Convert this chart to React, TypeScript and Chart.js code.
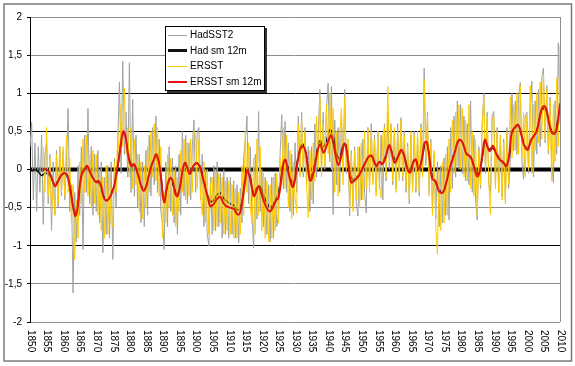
import { useEffect, useRef } from 'react';
import { Chart, registerables } from 'chart.js';

Chart.register(...registerables);

// ---- axis labels ----
const xTickYears = [1850, 1855, 1860, 1865, 1870, 1875, 1880, 1885, 1890, 1895, 1900, 1905, 1910, 1915, 1920, 1925, 1930, 1935, 1940, 1945, 1950, 1955, 1960, 1965, 1970, 1975, 1980, 1985, 1990, 1995, 2000, 2005, 2010];
const yMin = -2;
const yMax = 2;
const yStep = 0.5;

// ---- series names ----
const seriesNames = ['HadSST2', 'Had sm 12m', 'ERSST', 'ERSST sm 12m'];

// ---- HadSST2 (grey), half-year samples starting 1850.0 ----
const hadStartYear = 1850;
const hadStep = 0.5;
const hadSST2 = [
  0.3, 0.62, -0.4, 0.35, -0.55, 0.3, -0.3, 0.45, -0.72, 0.2,
  0.35, -0.45, 0.2, -0.8, 0.1, -0.6, 0.25, -0.5, 0.3, -0.35,
  0.25, -0.4, 0.1, 0.8, -0.55, -0.2, -1.62, -0.3, -0.95, 0.05,
  -0.6, 0.3, -1.05, 0.45, -0.3, 0.8, -0.45, 0.3, -0.6, 0.2,
  -0.55, 0.25, -0.7, 0.1, -1.09, -0.1, -0.85, 0.05, -0.9, 0.1,
  -1.18, 0.15, -0.5, 0.4, 1.15, -0.05, 1.42, 0.2, 0.75, -0.1,
  1.4, -0.3, 0.92, -0.35, 0.45, -0.5, 0.2, -0.7, 0.1, -0.75,
  0.25, -0.6, 0.45, -0.35, 0.55, -0.2, 0.7, -0.3, 0.4, -0.55,
  -0.7, -1.05, 0.1, -0.75, 0.3, -0.55, 0.15, -0.7, 0.05, -0.85,
  0.2, -0.6, 0.5, -0.35, 0.45, -0.45, 0.35, -0.4, 0.3, 0.65,
  -0.3, 0.5, 0.55, -0.4, 0.2, -0.75, 0.0, -0.85, -1.0, -0.1,
  -0.85, 0.05, -0.8, 0.1, -0.75, -0.05, -0.9, 0.0, -0.85, -0.1,
  -0.9, -0.1, -0.85, -0.15, -0.9, -0.2, -0.96, -0.25, -0.7, 0.15,
  0.4, 0.7, -0.45, 0.3, -0.6, -1.03, 0.2, -0.65, 0.76, -0.55,
  0.0, -0.75, -0.1, -0.85, -0.2, -0.95, -0.1, -0.9, -0.05, -0.75,
  -0.6, 0.2, 0.72, -0.25, 0.63, -0.3, 0.35, -0.55, 0.2, -0.6,
  0.35, -0.3, 0.7, -0.05, 0.75, -0.1, 0.55, -0.2, 0.3, -0.55,
  0.3, -0.45, 0.6, -0.1, 0.45, 1.05, -0.05, 0.75, 0.0, 0.8,
  1.13, 0.1, 1.09, -0.59, 0.65, -0.2, 0.55, -0.3, 0.7, -0.05,
  1.05, -0.05, 0.3, -0.61, 0.25, -0.5, 0.3, -0.45, -0.61, 0.3,
  -0.4, 0.4, -0.3, -0.57, 0.55, -0.2, 0.6, -0.15, 0.45, -0.3,
  0.5, -0.25, 0.45, -0.4, 0.6, -0.15, 0.75, 0.0, 0.6, -0.2,
  0.5, -0.25, 0.6, -0.1, 0.68, -0.15, 0.5, -0.3, 0.35, -0.45,
  0.45, -0.25, 0.5, -0.3, 0.4, -0.35, 0.6, -0.1, 1.33, 0.05,
  0.75, -0.3, 0.4, -0.55, 0.2, -0.65, 0.1, -0.75, 0.05, -0.7,
  0.15, -0.6, 0.3, -0.66, 0.55, -0.25, 0.7, -0.1, 0.9, 0.0,
  0.85, -0.05, 0.7, -0.15, 0.6, -0.2, 0.9, -0.3, 0.45, -0.4,
  -0.66, 0.3, -0.25, 0.6, 1.0, -0.05, 0.75, -0.2, -0.3, 0.7,
  0.76, -0.2, 0.55, -0.3, 0.45, -0.35, 0.4, -0.4, 0.55, -0.25,
  0.1, 1.0, 0.25, 0.9, 0.2, 0.95, 1.14, 0.1, -0.13, 0.7,
  0.75, -0.05, 0.8, 1.16, -0.1, 0.9, 0.2, 1.05, 0.3, 1.2,
  1.33, 0.35, 1.1, 0.2, 0.95, 0.05, -0.17, 0.9, 0.2, 1.66,
  0.6,
];

// ---- Had sm 12m (black), yearly samples starting 1850.5 ----
const hadSmStartYear = 1850.5;
const hadSmStep = 1;
const hadSm12m = [
  -0.02, 0.0, -0.03, -0.08, -0.05, -0.06, -0.12, -0.2, -0.14, -0.08,
  -0.05, -0.12, -0.35, -0.58, -0.45, -0.1, 0.0, 0.02, -0.08, -0.14,
  -0.16, -0.24, -0.38, -0.4, -0.32, -0.2, 0.05, 0.36, 0.48, 0.24,
  0.08, 0.06, -0.05, -0.2, -0.26, -0.15, 0.03, 0.14, 0.16, -0.08,
  -0.4, -0.22, -0.12, -0.24, -0.32, -0.18, 0.06, 0.03, -0.03, 0.06,
  0.09, 0.02, -0.15, -0.32, -0.42, -0.4, -0.33, -0.31, -0.38, -0.42,
  -0.45, -0.47, -0.53, -0.5, -0.25, 0.02, -0.1, -0.3, -0.24, -0.22,
  -0.34, -0.43, -0.5, -0.45, -0.36, -0.2, 0.1, 0.08, -0.1, -0.18,
  0.05, 0.28, 0.33, 0.15, -0.1, -0.02, 0.22, 0.38, 0.3, 0.38,
  0.52, 0.45, 0.22, 0.14, 0.32, 0.32, -0.02, -0.14, -0.1, -0.06,
  0.03, 0.12, 0.18, 0.15, 0.06, 0.1, 0.08, 0.2, 0.3, 0.2,
  0.12, 0.2, 0.24, 0.1, -0.02, 0.08, 0.12, 0.03, 0.18, 0.36,
  0.2, -0.1, -0.18, -0.26, -0.3, -0.2, -0.02, 0.14, 0.27, 0.38,
  0.36, 0.24, 0.18, 0.12, 0.0, -0.06, 0.15, 0.38, 0.27, 0.28,
  0.24, 0.16, 0.1, 0.06, 0.14, 0.46, 0.55, 0.57, 0.44, 0.3,
  0.3, 0.4, 0.46, 0.6, 0.77, 0.8, 0.66, 0.5, 0.5, 0.7,
];

// ---- ERSST (yellow), half-year samples starting 1854.0 ----
const ersstStartYear = 1854;
const ersstStep = 0.5;
const ersst = [
  0.3, -0.3,
  0.55, -0.35, 0.15, -0.55, -0.2, -0.6, 0.2, -0.45, 0.3, -0.3,
  0.3, -0.35, 0.45, -0.3, 0.15, -0.7, -0.2, -1.18, -0.4, -0.9,
  0.1, -0.45, 0.4, -0.3, 0.45, -0.35, 0.2, -0.5, 0.25, -0.45,
  0.2, -0.6, 0.0, -0.8, -0.1, -0.9, 0.05, -0.85, -0.05, -0.7,
  -0.75, 0.1, -0.3, 0.5, 0.1, 0.85, 0.3, 1.07, 0.2, 0.55,
  -0.1, 0.55, -0.25, 0.4, -0.2, 0.2, -0.55, 0.1, -0.65, 0.05,
  -0.5, 0.3, -0.3, 0.5, -0.1, 0.6, -0.15, 0.55, -0.35, 0.3,
  -0.9, -0.3, -0.7, 0.2, -0.5, 0.15, -0.6, 0.0, -0.75, -0.1,
  -0.55, 0.25, -0.3, 0.4, -0.4, 0.35, -0.35, 0.4, -0.3, 0.5,
  0.45, -0.25, 0.4, -0.35, -0.6, 0.1, -0.7, 0.0, -0.85, -0.2,
  -0.1, -0.8, 0.0, -0.75, -0.05, -0.7, -0.1, -0.85, -0.15, -0.8,
  -0.15, -0.85, -0.2, -0.9, -0.25, -0.9, -0.3, -0.85, 0.05, -0.6,
  0.5, -0.3, 0.35, -0.5, -0.7, 0.15, -0.85, 0.4, -0.6, 0.3,
  -0.8, -0.05, -0.9, -0.15, -0.95, -0.2, -0.9, -0.1, -0.8, -0.05,
  -0.7, 0.15, -0.2, 0.55, -0.25, 0.45, -0.5, 0.25, -0.65, 0.1,
  -0.35, -0.57, 0.6, -0.1, 0.65, -0.05, 0.5, -0.2, -0.63, 0.25,
  -0.4, 0.35, -0.15, 0.7, 0.0, 0.95, -0.1, 0.6, 0.05, 0.85,
  0.2, 1.0, 0.0, 0.8, -0.3, 0.5, -0.35, 0.45, 0.8, -0.2,
  0.95, 0.0, 0.4, -0.5, 0.2, -0.55, 0.25, -0.4, 0.3, -0.5,
  0.35, -0.4, 0.5, -0.25, 0.55, -0.3, 0.5, -0.2, 0.4, -0.35,
  0.5, -0.2, -0.37, 0.45, 0.55, -0.1, 1.09, 0.1, 0.6, -0.15,
  0.55, -0.3, 0.5, -0.15, 0.65, -0.1, 0.45, -0.25, 0.3, -0.39,
  0.5, -0.3, 0.45, -0.25, 0.5, -0.3, 0.55, -0.1, 1.18, 0.15,
  0.7, -0.35, 0.35, -0.6, 0.25, -0.75, -1.11, 0.0, -0.8, 0.1,
  -0.7, 0.2, -0.6, 0.4, -0.3, 0.65, -0.05, 0.75, 0.05, 0.85,
  0.0, 0.8, -0.1, 0.65, -0.15, 0.85, -0.25, 0.5, -0.35, 0.4,
  -0.6, 0.25, -0.2, 0.55, 0.95, 0.0, 0.7, -0.15, -0.59, 0.65,
  0.7, -0.25, 0.5, -0.3, 0.45, -0.4, 0.35, -0.45, 0.5, -0.2,
  0.95, 0.15, 0.85, 0.25, 1.0, 0.2, 1.1, 0.15, 0.75, -0.1,
  0.7, 0.0, 1.1, -0.05, 0.85, 0.25, 1.0, 0.35, 1.15, 0.4,
  1.25, 0.4, 1.05, 0.25, 0.9, -0.15, 0.85, 0.1, 1.2, 0.3,
  1.63,
];

// ---- ERSST sm 12m (red) ----
const ersstSmYears = [
  1854.0, 1855.0, 1856.0, 1857.0, 1857.6, 1858.5, 1859.5, 1860.7, 1861.5, 1862.5,
  1863.3, 1863.7, 1864.3, 1865.0, 1865.7, 1866.5, 1867.2, 1868.0, 1869.0, 1870.0,
  1870.7, 1871.5, 1872.3, 1873.0, 1873.7, 1874.5, 1875.4, 1876.0, 1876.8, 1877.6,
  1878.2, 1878.8, 1879.4, 1880.1, 1880.8, 1881.4, 1882.1, 1882.9, 1883.6, 1884.3,
  1885.1, 1885.8, 1886.6, 1887.4, 1888.1, 1888.8, 1889.4, 1890.1, 1890.6, 1891.3,
  1892.3, 1893.1, 1893.8, 1894.5, 1895.3, 1896.1, 1896.8, 1897.5, 1898.3, 1899.1,
  1900.1, 1901.1, 1901.9, 1902.8, 1903.8, 1904.4, 1905.3, 1906.4, 1907.4, 1908.4,
  1909.2, 1910.4, 1911.6, 1912.6, 1913.4, 1914.2, 1914.9, 1915.5, 1916.2, 1916.9,
  1917.6, 1918.2, 1919.0, 1919.6, 1920.4, 1921.2, 1922.3, 1923.3, 1924.2, 1925.0,
  1925.8, 1926.5, 1927.1, 1927.8, 1928.6, 1929.4, 1930.2, 1931.0, 1932.0, 1933.0,
  1934.0, 1934.6, 1935.6, 1936.6, 1937.6, 1938.6, 1939.6, 1940.8, 1941.4, 1942.3,
  1943.1, 1944.1, 1944.9, 1945.6, 1946.3, 1947.0, 1948.0, 1949.0, 1950.0, 1951.0,
  1952.3, 1953.2, 1953.9, 1954.6, 1955.4, 1956.3, 1957.3, 1958.4, 1959.1, 1960.1,
  1961.1, 1962.1, 1963.0, 1963.8, 1964.8, 1965.8, 1966.5, 1967.3, 1968.3, 1969.1,
  1969.8, 1970.6, 1971.4, 1972.4, 1973.4, 1974.4, 1975.1, 1975.9, 1976.9, 1978.2,
  1979.2, 1980.0, 1980.8, 1981.8, 1983.0, 1984.0, 1985.0, 1985.8, 1986.5, 1987.3,
  1988.0, 1988.8, 1989.8, 1990.8, 1991.8, 1993.0, 1993.8, 1994.6, 1995.4, 1996.3,
  1997.3, 1998.1, 1998.9, 1999.6, 2000.3, 2001.3, 2002.1, 2003.1, 2004.1, 2005.1,
  2005.9, 2006.6, 2007.6, 2008.6, 2009.3, 2010.0,
];
const ersstSm12m = [
  0.0, 0.0, -0.05, -0.17, -0.22, -0.15, -0.07, -0.05, -0.11, -0.35,
  -0.55, -0.61, -0.52, -0.22, -0.04, 0.0, 0.05, -0.02, -0.11, -0.17,
  -0.15, -0.22, -0.37, -0.41, -0.39, -0.33, -0.22, -0.07, 0.13, 0.39,
  0.5, 0.44, 0.26, 0.09, 0.04, 0.07, 0.0, -0.11, -0.22, -0.28,
  -0.22, -0.09, 0.04, 0.13, 0.2, 0.11, -0.04, -0.35, -0.43, -0.24,
  -0.11, -0.15, -0.31, -0.35, -0.22, 0.0, 0.09, 0.02, -0.06, 0.03,
  0.08, 0.05, -0.06, -0.22, -0.39, -0.48, -0.46, -0.39, -0.36, -0.44,
  -0.48, -0.5, -0.52, -0.59, -0.57, -0.39, -0.17, -0.01, -0.08, -0.22,
  -0.35, -0.3, -0.22, -0.28, -0.39, -0.48, -0.55, -0.5, -0.41, -0.37,
  -0.15, 0.08, 0.13, 0.0, -0.15, -0.23, -0.08, 0.15, 0.3, 0.27,
  0.0, -0.15, -0.04, 0.2, 0.33, 0.22, 0.32, 0.45, 0.38, 0.18,
  0.06, 0.2, 0.34, 0.25, 0.0, -0.17, -0.14, -0.1, -0.02, 0.07,
  0.17, 0.18, 0.1, 0.04, 0.1, 0.07, 0.15, 0.32, 0.24, 0.09,
  0.17, 0.26, 0.17, 0.02, -0.04, 0.11, 0.13, 0.0, 0.13, 0.35,
  0.36, 0.15, -0.12, -0.15, -0.28, -0.31, -0.26, -0.13, 0.04, 0.22,
  0.37, 0.39, 0.33, 0.2, 0.17, 0.04, -0.09, -0.02, 0.17, 0.39,
  0.31, 0.24, 0.31, 0.2, 0.13, 0.09, 0.04, 0.17, 0.48, 0.55,
  0.59, 0.5, 0.35, 0.28, 0.26, 0.39, 0.44, 0.52, 0.74, 0.83,
  0.79, 0.63, 0.48, 0.48, 0.61, 0.87,
];

// ---- styles ----
const colGrey = '#a3a3a3';
const colBlack = '#111111';
const colYellow = '#ffcc00';
const colRed = '#e3140c';
const legendStyles = [
  { color: colGrey, width: 1 },
  { color: colBlack, width: 3 },
  { color: colYellow, width: 1 },
  { color: colRed, width: 2 },
];
const FONT = '"Liberation Sans", Arial, sans-serif';

function gridColorFor(v: number): string {
  const r = Math.round(v * 10) / 10;
  if (r === 1 || r === 0.5 || r === -1 || r === 0) return '#000000';
  return '#8c8c8c';
}

const framePlugin = {
  id: 'frames',
  beforeDraw(chart: any) {
    const ctx = chart.ctx;
    ctx.save();
    ctx.fillStyle = '#ffffff';
    ctx.fillRect(0, 0, chart.width, chart.height);
    ctx.strokeStyle = '#7a7a7a';
    ctx.lineWidth = 1.5;
    ctx.strokeRect(4, 4, 567.5, 357);
    ctx.restore();
  },
  beforeDatasetsDraw(chart: any) {
    const { ctx, chartArea } = chart;
    ctx.save();
    ctx.strokeStyle = '#8c8c8c';
    ctx.lineWidth = 1;
    ctx.beginPath();
    ctx.moveTo(Math.round(chartArea.right) + 0.5, chartArea.top);
    ctx.lineTo(Math.round(chartArea.right) + 0.5, chartArea.bottom);
    ctx.stroke();
    ctx.restore();
  },
};

const yearLabelPlugin = {
  id: 'yearLabels',
  afterDraw(chart: any) {
    const { ctx, chartArea, scales } = chart;
    const xs = scales.x;
    ctx.save();
    ctx.font = '10px ' + FONT;
    ctx.fillStyle = '#000000';
    ctx.textAlign = 'left';
    ctx.textBaseline = 'middle';
    for (const yr of xTickYears) {
      const px = xs.getPixelForValue(yr);
      ctx.save();
      ctx.translate(px + 0.5, chartArea.bottom + 8);
      ctx.rotate(Math.PI / 2);
      ctx.fillText(String(yr), 0, 0);
      ctx.restore();
    }
    ctx.restore();
  },
};

export default function App() {
  const ref = useRef<HTMLCanvasElement>(null);

  useEffect(() => {
    const canvas = ref.current;
    if (!canvas) return;
    const hadData = hadSST2.map((v, i) => ({ x: hadStartYear + i * hadStep, y: v }));
    const hadSmData = hadSm12m.map((v, i) => ({ x: hadSmStartYear + i * hadSmStep, y: v }));
    const ersstData = ersst.map((v, i) => ({ x: ersstStartYear + i * ersstStep, y: v }));
    const ersstSmData = ersstSm12m.map((v, i) => ({ x: ersstSmYears[i], y: v }));
    const zeroAxis = [{ x: xTickYears[0], y: 0 }, { x: xTickYears[xTickYears.length - 1], y: 0 }];

    const chart = new Chart(canvas, {
      type: 'line',
      data: {
        datasets: [
          { label: 'axis', data: zeroAxis, borderColor: '#000000', borderWidth: 4, pointRadius: 0, order: 5 },
          { label: seriesNames[0], data: hadData, borderColor: colGrey, borderWidth: 1, pointRadius: 0, order: 4 },
          { label: seriesNames[1], data: hadSmData, borderColor: colBlack, borderWidth: 1.5, pointRadius: 0, tension: 0.4, order: 3 },
          { label: seriesNames[2], data: ersstData, borderColor: colYellow, borderWidth: 1, pointRadius: 0, order: 2 },
          { label: seriesNames[3], data: ersstSmData, borderColor: colRed, borderWidth: 2, pointRadius: 0, tension: 0.4, order: 1 },
        ],
      },
      options: {
        responsive: false,
        devicePixelRatio: 1,
        animation: false,
        events: [],
        layout: { padding: { top: 17, right: 15, left: 0, bottom: 0 } },
        plugins: { legend: { display: false }, tooltip: { enabled: false } },
        scales: {
          x: {
            type: 'linear',
            min: xTickYears[0],
            max: xTickYears[xTickYears.length - 1],
            grid: { display: false },
            border: { display: false },
            ticks: { display: false },
            afterFit: (s: any) => { s.height = 44; },
          },
          y: {
            type: 'linear',
            min: yMin,
            max: yMax,
            ticks: {
              stepSize: yStep,
              padding: 5,
              color: '#000000',
              font: { family: FONT, size: 10 },
              callback: (v: any) => String(Math.round(Number(v) * 10) / 10).replace('.', ','),
            },
            grid: {
              color: (c: any) => gridColorFor(c.tick ? c.tick.value : 0),
              tickColor: '#000000',
              tickLength: 3,
              lineWidth: 1,
            },
            border: { display: true, color: '#000000', width: 1 },
            afterFit: (s: any) => { s.width = 30; },
          },
        },
      },
      plugins: [framePlugin, yearLabelPlugin],
    });
    return () => chart.destroy();
  }, []);

  return (
    <div style={{ position: 'fixed', left: 0, top: 0, width: 575, height: 366, background: '#fff' }}>
      <canvas ref={ref} width={575} height={366} style={{ display: 'block' }} />
      <div
        style={{
          position: 'absolute', left: 165, top: 26, width: 100, height: 65,
          boxSizing: 'border-box', border: '1px solid #000', background: '#fff',
          boxShadow: '2px 2px 0 #333', fontFamily: FONT, fontSize: 10, color: '#000',
        }}
      >
        {seriesNames.map((name, i) => (
          <div key={name} style={{ position: 'relative', height: 15.7, lineHeight: '15.7px', whiteSpace: 'nowrap' }}>
            <span
              style={{
                position: 'absolute', left: 2, width: 19,
                top: 8 - legendStyles[i].width / 2, height: legendStyles[i].width,
                background: legendStyles[i].color,
              }}
            />
            <span style={{ position: 'absolute', left: 24 }}>{name}</span>
          </div>
        ))}
      </div>
    </div>
  );
}
